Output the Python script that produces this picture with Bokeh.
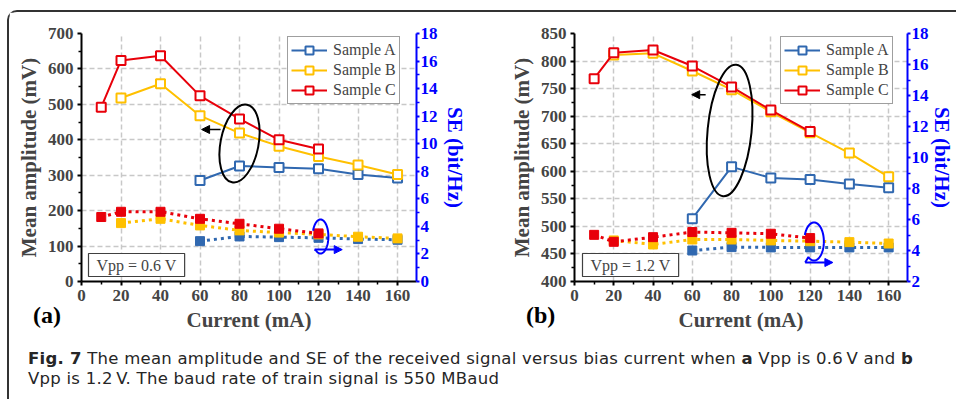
import math
from bokeh.plotting import figure
from bokeh.models import (Range1d, LinearAxis, FixedTicker, Legend, LegendItem,
                          Label, Arrow, NormalHead, Div)
from bokeh.layouts import row, column
from bokeh.embed import file_html
from bokeh.resources import INLINE

# ---------------- data ----------------
x_A = [60, 80, 100, 120, 140, 160]
x_B = [20, 40, 60, 80, 100, 120, 140, 160]
x_C = [10, 20, 40, 60, 80, 100, 120]

# (a) Vpp = 0.6 V
a_amp_A = [285, 326, 322, 318, 302, 292]
a_amp_B = [518, 558, 468, 419, 382, 353, 329, 302]
a_amp_C = [492, 624, 637, 524, 459, 400, 374]
a_se_A = [2.93, 3.27, 3.22, 3.17, 3.08, 3.03]
a_se_B = [4.24, 4.55, 4.07, 3.71, 3.55, 3.42, 3.25, 3.13]
a_se_C = [4.68, 5.06, 5.06, 4.55, 4.19, 3.83, 3.49]

# (b) Vpp = 1.2 V
b_amp_A = [514, 608, 588, 585, 577, 570]
b_amp_B = [811, 814, 782, 748, 708, 670, 633, 590]
b_amp_C = [768, 815, 820, 791, 753, 711, 672]
b_se_A = [4.0, 4.22, 4.2, 4.2, 4.2, 4.2]
b_se_B = [4.65, 4.39, 4.71, 4.71, 4.65, 4.6, 4.54, 4.45]
b_se_C = [5.01, 4.56, 4.86, 5.19, 5.14, 5.08, 4.8]

x_ticks = [0, 20, 40, 60, 80, 100, 120, 140, 160]
a_left_ticks = [0, 100, 200, 300, 400, 500, 600, 700]
b_left_ticks = [400, 450, 500, 550, 600, 650, 700, 750, 800, 850]
a_right_ticks = [0, 2, 4, 6, 8, 10, 12, 14, 16, 18]
b_right_ticks = [2, 4, 6, 8, 10, 12, 14, 16, 18]
samples = ["Sample A", "Sample B", "Sample C"]
colors = ["#3068B0", "#FFC000", "#E8000A"]

SERIF = "Liberation Serif"
BLUE = "#0000FF"


def make_label(**kw):
    try:
        return Label(padding=dict(x=8, y=3), **kw)
    except Exception:
        return Label(padding=4, **kw)


def make_panel(width, bl, br, xmax, yl, yr, lticks, lstep, rticks, amps, ses, vpp,
               vpp_x, se_standoff, ell, arr_black, curl, curl_arrow):
    p = figure(width=width, height=323, x_range=Range1d(0, xmax), y_range=Range1d(*yl),
               output_backend="svg", toolbar_location=None,
               min_border_left=bl, min_border_right=br, min_border_top=21, min_border_bottom=54)
    p.outline_line_color = None
    p.background_fill_color = "white"
    p.border_fill_color = "white"
    p.extra_y_ranges = {"se": Range1d(*yr)}
    axr = LinearAxis(y_range_name="se", axis_label="SE (bit/Hz)")
    p.add_layout(axr, "right")

    p.xaxis.ticker = FixedTicker(ticks=x_ticks, minor_ticks=[10, 30, 50, 70, 90, 110, 130, 150])
    p.yaxis[0].ticker = FixedTicker(ticks=lticks, minor_ticks=[t + lstep / 2 for t in lticks[:-1]])
    axr.ticker = FixedTicker(ticks=rticks, minor_ticks=[t + 1 for t in rticks[:-1]])
    p.xaxis.axis_label = "Current (mA)"
    p.yaxis[0].axis_label = "Mean amplitude (mV)"

    for ax in [p.xaxis[0], p.yaxis[0], axr]:
        ax.axis_line_width = 2
        ax.major_tick_line_width = 2
        ax.minor_tick_line_width = 1.5
        ax.major_tick_in = 0
        ax.major_tick_out = 4
        ax.minor_tick_in = 0
        ax.minor_tick_out = 3
        ax.major_label_text_font = SERIF
        ax.major_label_text_font_style = "bold"
        ax.major_label_text_font_size = "17px"
        ax.axis_label_text_font = SERIF
        ax.axis_label_text_font_style = "bold"
        ax.axis_label_text_font_size = "21px"
        ax.major_label_standoff = 4
        ax.axis_label_standoff = 4
    axr.major_tick_out = 3
    axr.major_label_standoff = 1
    try:
        axr.axis_label_standoff = se_standoff
    except Exception:
        axr.axis_label_standoff = 0
    axr.axis_line_color = BLUE
    axr.major_tick_line_color = BLUE
    axr.minor_tick_line_color = BLUE
    axr.major_label_text_color = BLUE
    axr.axis_label_text_color = BLUE

    p.xgrid.ticker = FixedTicker(ticks=x_ticks[1:])
    p.ygrid.ticker = FixedTicker(ticks=lticks[1:-1])
    for g in [p.xgrid[0], p.ygrid[0]]:
        g.grid_line_color = "#C8C8C8"
        g.grid_line_dash = "5 3"
        g.grid_line_width = 1.5

    xs = [x_A, x_B, x_C]
    items = []
    for x, s, c in zip(xs, ses, colors):
        p.line(x, s, y_range_name="se", line_color=c, line_width=3, line_dash="3 4")
        p.scatter(x, s, y_range_name="se", marker="square", size=9, fill_color=c, line_color=c)
    for x, a, c, name in zip(xs, amps, colors, samples):
        l = p.line(x, a, line_color=c, line_width=2)
        m = p.scatter(x, a, marker="square", size=9, fill_color="white", line_color=c, line_width=2)
        items.append(LegendItem(label=name, renderers=[l, m]))

    leg = Legend(items=items, location=(206, 177), label_text_font=SERIF, label_text_font_size="16px",
                 glyph_width=36, glyph_height=20, label_height=20, spacing=0, padding=3, margin=0,
                 label_standoff=6, border_line_color="#404040", border_line_width=1.2,
                 background_fill_color="white", background_fill_alpha=1)
    p.add_layout(leg)

    p.ellipse(x=[ell[0]], y=[ell[1]], width=ell[2], height=ell[3], angle=ell[4],
              width_units="screen", height_units="screen", fill_color=None, line_color="black", line_width=2)
    p.add_layout(Arrow(x_start=arr_black[0], y_start=arr_black[1], x_end=arr_black[2], y_end=arr_black[1],
                       line_color="black", line_width=1.5,
                       end=NormalHead(size=8, fill_color="black", line_color="black")))
    cx, cy, rx, ry = curl
    angs = [math.radians(a) for a in range(160, -126, -5)]
    px = [cx + rx * math.cos(t) for t in angs] + [curl_arrow[0]]
    py = [cy + ry * math.sin(t) for t in angs] + [curl_arrow[1]]
    p.line(px, py, line_color=BLUE, line_width=2)
    p.add_layout(Arrow(x_start=curl_arrow[0], y_start=curl_arrow[1], x_end=curl_arrow[2], y_end=curl_arrow[1],
                       line_color=BLUE, line_width=2,
                       end=NormalHead(size=8, fill_color=BLUE, line_color=BLUE)))

    p.add_layout(make_label(x=vpp_x, y=5, x_units="screen", y_units="screen", text=vpp,
                            text_font=SERIF, text_font_size="16px",
                            border_line_color="#404040", border_line_width=1.2,
                            background_fill_color="white"))
    return p


pa = make_panel(471, 72, 64, 169.6, (0, 700), (0, 18), a_left_ticks, 100, a_right_ticks,
                [a_amp_A, a_amp_B, a_amp_C], [a_se_A, a_se_B, a_se_C], "Vpp = 0.6 V", 7, 2,
                (80.0, 389.5, 38, 79, -0.19), (70.4, 429, 60.8),
                (121.0, 127.0, 4.0, 48.0), (118.0, 90.0, 132.0))
pb = make_panel(476, 94, 47, 169.6, (400, 850), (2, 18), b_left_ticks, 50, b_right_ticks,
                [b_amp_A, b_amp_B, b_amp_C], [b_se_A, b_se_B, b_se_C], "Vpp = 1.2 V", 8, -2,
                (79.0, 674.0, 44, 132, -0.1), (66.8, 739, 59.7),
                (122.0, 472.6, 5.0, 34.5), (117.5, 434.5, 131.6))

TAG = "position:absolute;top:-29px;font-family:'Liberation Serif';font-weight:bold;font-size:24px;" \
      "letter-spacing:0;color:#000;white-space:nowrap;"

caption = Div(
    text='<div style="position:relative;padding:14px 0 0 19px;font-family:\'DejaVu Sans\';font-size:16.5px;'
         'letter-spacing:0.25px;line-height:19.5px;color:#262626;white-space:nowrap;">'
         '<span style="left:24px;' + TAG + '">(a)</span>'
         '<span style="left:517px;' + TAG + '">(b)</span>'
         '<b>Fig. 7</b> The mean amplitude and SE of the received signal versus bias current when '
         '<b>a</b> Vpp is 0.6\u2009V and <b>b</b><br>'
         'Vpp is 1.2\u2009V. The baud rate of train signal is 550 MBaud</div>',
    width=947, height=64, margin=0)

layout = column(row(pa, pb), caption, margin=(10, 0, 0, 7),
                styles={"border-top": "2px solid #333", "border-left": "2px solid #333",
                        "border-top-left-radius": "10px", "position": "relative"})

open("out.html", "w").write(file_html(layout, INLINE))
